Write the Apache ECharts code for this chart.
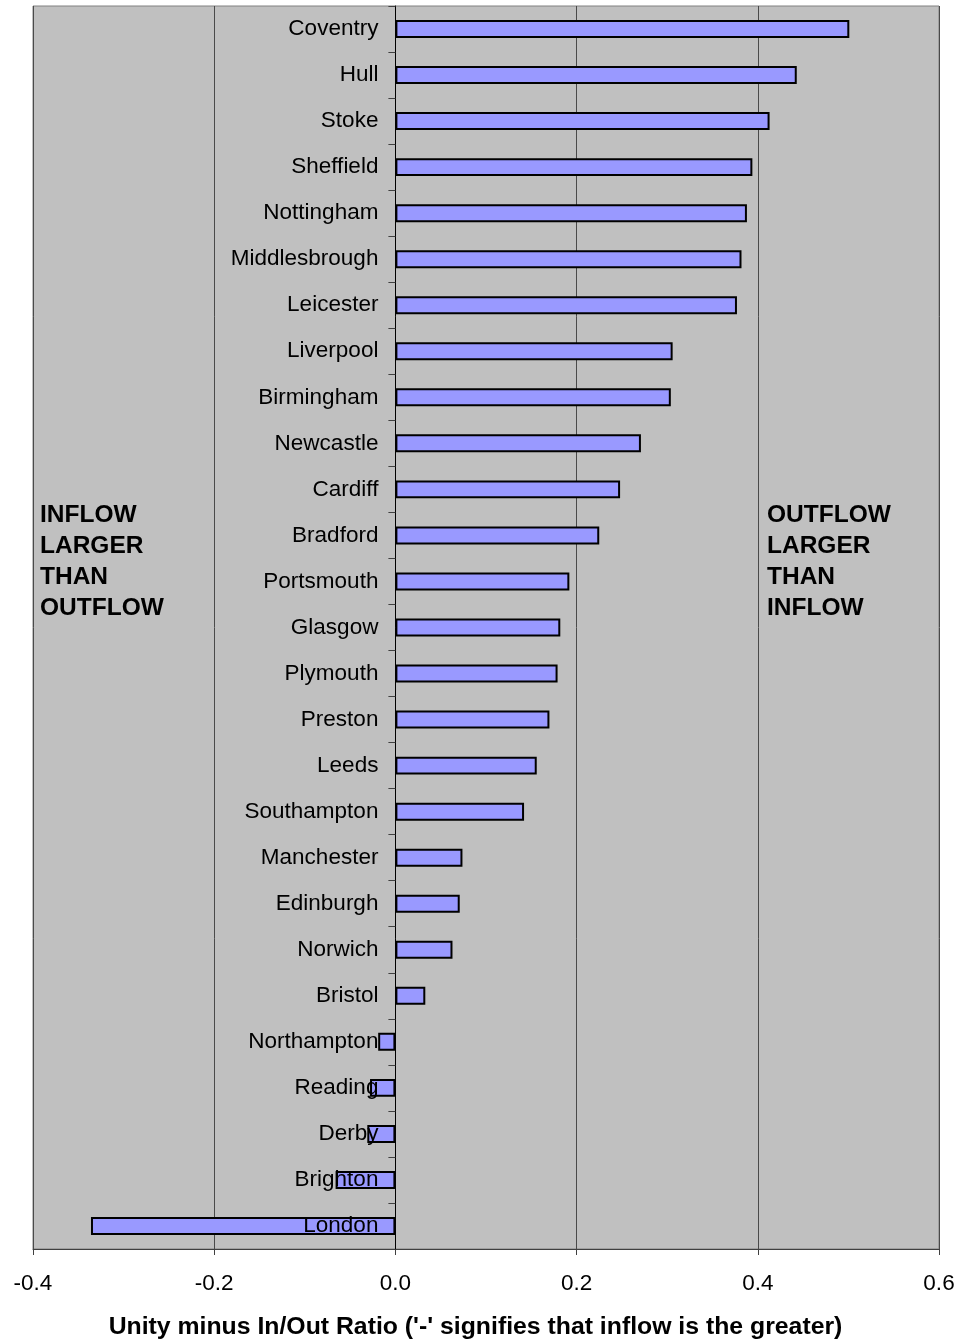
<!DOCTYPE html>
<html>
<head>
<meta charset="utf-8">
<title>Inflow / Outflow ratio by city</title>
<script src="https://cdn.jsdelivr.net/npm/echarts@6/dist/echarts.min.js"></script>
<style>
  html, body { margin: 0; padding: 0; background: #ffffff; }
  #chart { width: 958px; height: 1341px; }
</style>
</head>
<body>
<div id="chart"></div>
<script>
// Cities, top to bottom
const cities = [
  'Coventry', 'Hull', 'Stoke', 'Sheffield', 'Nottingham', 'Middlesbrough',
  'Leicester', 'Liverpool', 'Birmingham', 'Newcastle', 'Cardiff', 'Bradford',
  'Portsmouth', 'Glasgow', 'Plymouth', 'Preston', 'Leeds', 'Southampton',
  'Manchester', 'Edinburgh', 'Norwich', 'Bristol', 'Northampton', 'Reading',
  'Derby', 'Brighton', 'London'
];

// Unity minus In/Out ratio for each city
const ratioValues = [
  0.501, 0.443, 0.413, 0.394, 0.388, 0.382,
  0.377, 0.306, 0.304, 0.271, 0.248, 0.225,
  0.192, 0.182, 0.179, 0.170, 0.156, 0.142,
  0.074, 0.071, 0.063, 0.033, -0.019, -0.028,
  -0.031, -0.066, -0.336
];

// Value axis range and step
const axisMin = -0.4;
const axisMax = 0.6;
const axisStep = 0.2;

const axisTitle = "Unity minus In/Out Ratio ('-' signifies that inflow is the greater)";
const leftNote = 'INFLOW\nLARGER\nTHAN\nOUTFLOW';
const rightNote = 'OUTFLOW\nLARGER\nTHAN\nINFLOW';

const FONT = '"Liberation Sans", Arial, Helvetica, sans-serif';
const GRID_LEFT = 33;

const chart = echarts.init(document.getElementById('chart'), null, { renderer: 'canvas' });

chart.setOption({
  backgroundColor: '#ffffff',
  animation: false,
  textStyle: { fontFamily: FONT },
  grid: {
    left: GRID_LEFT,
    right: 19,
    top: 6,
    bottom: 92,
    show: true,
    backgroundColor: '#c0c0c0',
    borderColor: '#808080',
    borderWidth: 1,
    containLabel: false,
    outerBoundsMode: 'none'
  },
  xAxis: {
    type: 'value',
    min: axisMin,
    max: axisMax,
    interval: axisStep,
    name: axisTitle,
    nameLocation: 'middle',
    nameGap: 66,
    nameTextStyle: {
      fontFamily: FONT,
      fontSize: 24.8,
      fontWeight: 'bold',
      color: '#000000',
      padding: [0, 21, 0, 0]
    },
    axisLine: { show: true, onZero: false, lineStyle: { color: '#404040', width: 1 } },
    axisTick: { show: true, length: 6, lineStyle: { color: '#404040', width: 1 } },
    axisLabel: {
      margin: 23,
      fontFamily: FONT,
      fontSize: 22.5,
      color: '#000000',
      formatter: v => v.toFixed(1)
    },
    splitLine: { show: true, lineStyle: { color: '#4a4a4a', width: 1 } }
  },
  yAxis: {
    type: 'category',
    data: cities,
    inverse: true,
    z: 5,
    axisLine: { show: true, onZero: false, lineStyle: { color: '#000000', width: 1 } },
    axisTick: { show: true, length: 7, lineStyle: { color: '#404040', width: 1 } },
    axisLabel: {
      interval: 0,
      margin: 17,
      fontFamily: FONT,
      fontSize: 22.5,
      color: '#000000'
    },
    splitLine: { show: false }
  },
  series: [{
    type: 'bar',
    data: ratioValues,
    barWidth: '39%',
    itemStyle: {
      color: '#9999ff',
      borderColor: '#000000',
      borderWidth: 2
    }
  }],
  graphic: [
    {
      type: 'text',
      left: 40,
      top: 500,
      z: 10,
      style: {
        text: leftNote,
        font: 'bold 24.5px ' + FONT,
        fill: '#000000',
        lineHeight: 31
      }
    },
    {
      type: 'text',
      left: 767,
      top: 500,
      z: 10,
      style: {
        text: rightNote,
        font: 'bold 24.5px ' + FONT,
        fill: '#000000',
        lineHeight: 31
      }
    }
  ]
});

// Move the category axis (line, ticks and labels) onto the zero value of the x scale
const zeroX = chart.convertToPixel({ xAxisIndex: 0 }, 0);
chart.setOption({ yAxis: { offset: -(zeroX - GRID_LEFT) } });
</script>
</body>
</html>
